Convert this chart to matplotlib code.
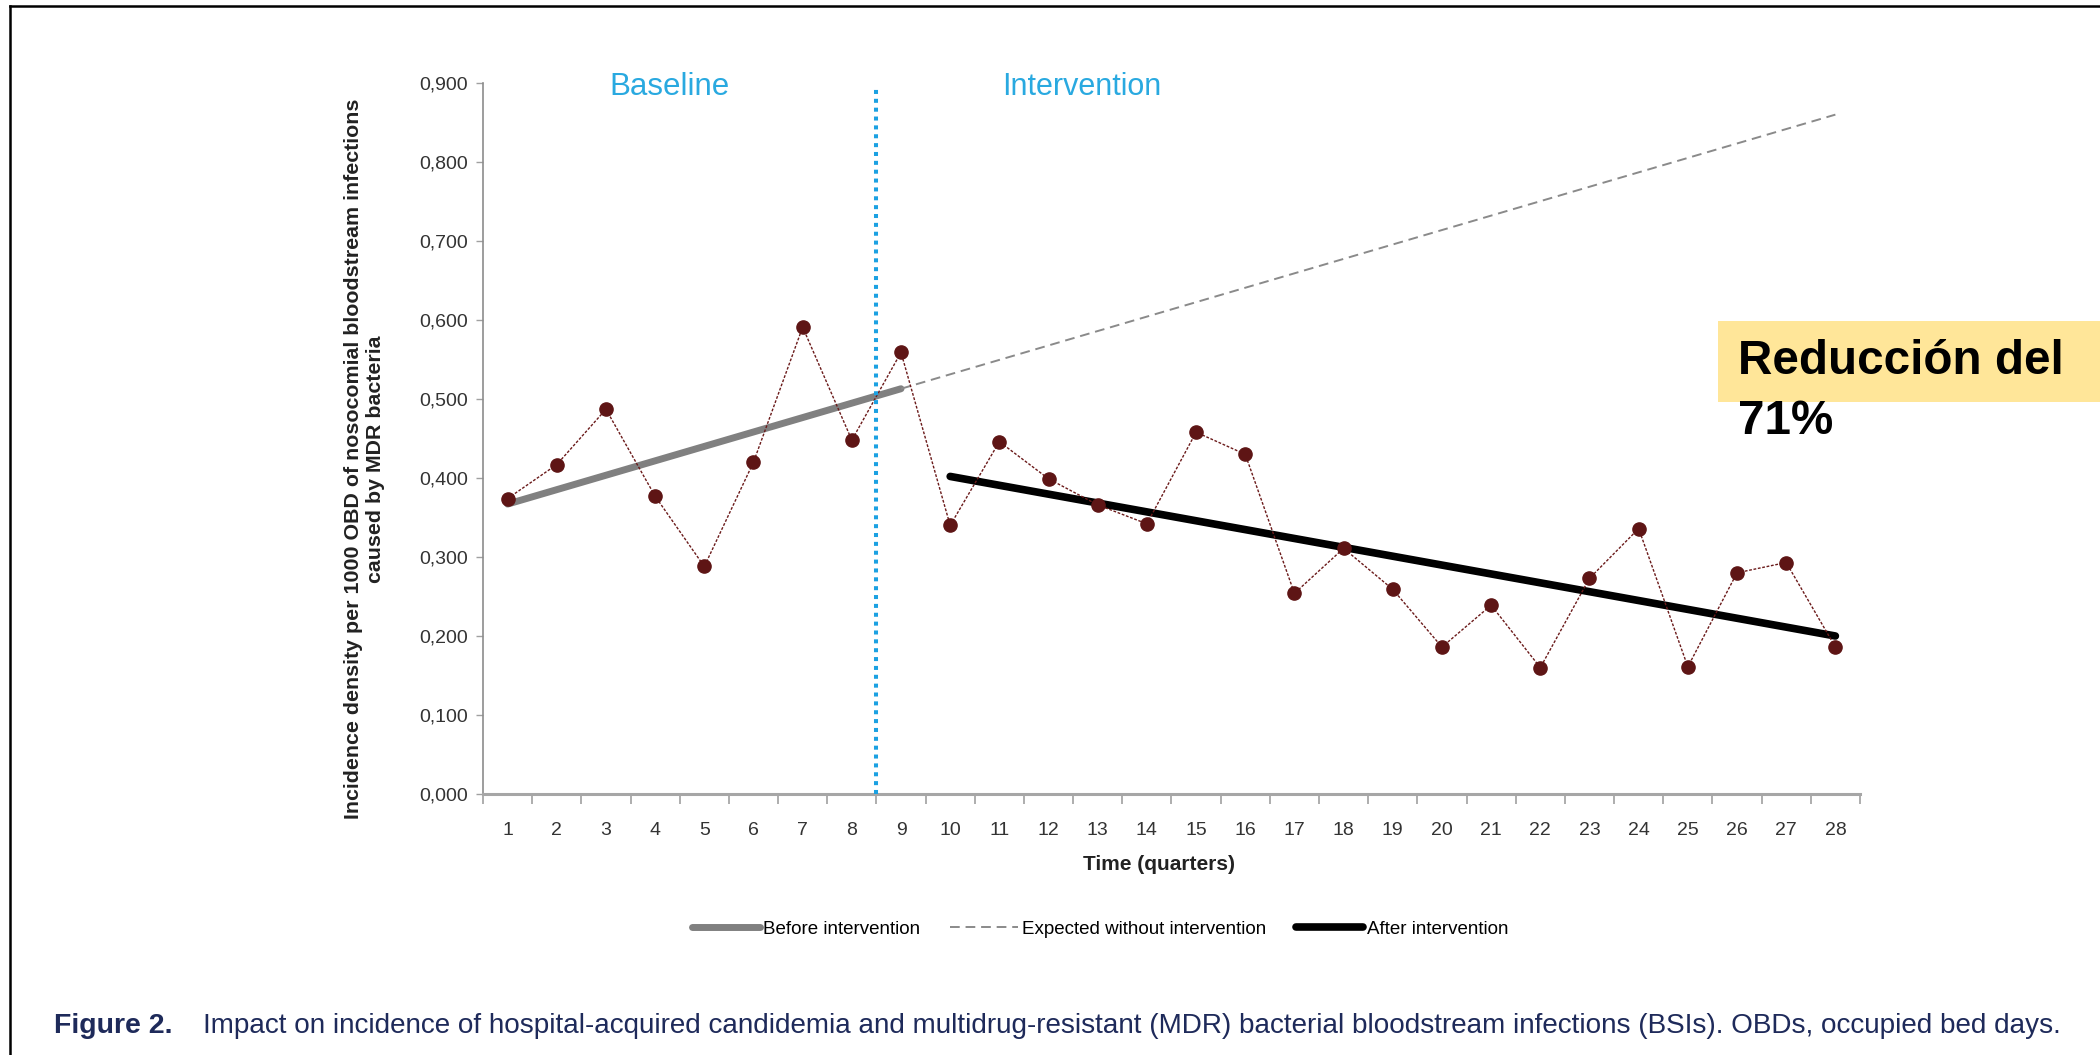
import matplotlib
matplotlib.use("Agg")
import matplotlib.pyplot as plt
from matplotlib.lines import Line2D
from matplotlib.patches import Rectangle
import numpy as np
from matplotlib import font_manager

names = {f.name for f in font_manager.fontManager.ttflist}
NARROW = "Liberation Sans Narrow" if "Liberation Sans Narrow" in names else "Liberation Sans"

# ---- data ----
quarters = np.arange(1, 29)
incidence = [0.374, 0.417, 0.487, 0.377, 0.288, 0.420, 0.591, 0.448,
             0.559, 0.340, 0.446, 0.399, 0.366, 0.342, 0.458, 0.430,
             0.254, 0.311, 0.259, 0.186, 0.239, 0.160, 0.273, 0.336,
             0.161, 0.280, 0.293, 0.186]
before_x = [1, 9]
before_y = [0.367, 0.513]
expected_x = [9, 28]
expected_y = [0.513, 0.860]
after_x = [10, 28]
after_y = [0.402, 0.200]
ytick_vals = [0.0, 0.1, 0.2, 0.3, 0.4, 0.5, 0.6, 0.7, 0.8, 0.9]
ytick_labels = ["0,000", "0,100", "0,200", "0,300", "0,400",
                "0,500", "0,600", "0,700", "0,800", "0,900"]
intervention_at = 8.5

fig = plt.figure(figsize=(21, 10.55), dpi=100)
ax = fig.add_axes([0.230, 0.2474, 0.6557, 0.6739])

# observed series
ax.plot(quarters, incidence, color="#6b1a1a", lw=1.0, ls=(0, (2, 1.2)),
        marker="o", markersize=9.5, markerfacecolor="#5e1515",
        markeredgecolor="#5e1515", zorder=4)

# trend lines
ax.plot(before_x, before_y, color="#808080", lw=5, solid_capstyle="round",
        label="Before intervention", zorder=3)
ax.plot(expected_x, expected_y, color="#8a8a8a", lw=1.4, ls=(0, (5, 3)),
        label="Expected without intervention", zorder=3)
ax.plot(after_x, after_y, color="black", lw=5.5, solid_capstyle="round",
        label="After intervention", zorder=3)

# intervention marker
ax.plot([intervention_at, intervention_at], [0, 0.893], color="#1ba1e2",
        lw=2.9, ls=(0, (1, 1.2)), zorder=5)

ax.set_xlim(0.5, 28.5)
ax.set_ylim(0, 0.9)
ax.set_xticks(quarters)
ax.set_xticklabels([str(q) for q in quarters])
ax.set_xticks(np.arange(0.5, 29, 1), minor=True)
ax.tick_params(axis="x", which="major", length=0, pad=20, labelsize=14,
               labelcolor="#333333")
ax.tick_params(axis="x", which="minor", length=7, width=1.2, color="#a0a0a0")
ax.set_yticks(ytick_vals)
ax.set_yticklabels(ytick_labels)
ax.tick_params(axis="y", length=5, width=1, color="#a0a0a0", pad=6,
               labelsize=14, labelcolor="#333333")
for lab in ax.get_xticklabels() + ax.get_yticklabels():
    lab.set_family(NARROW)

for s in ["top", "right"]:
    ax.spines[s].set_visible(False)
ax.spines["left"].set_color("#8c8c8c")
ax.spines["left"].set_linewidth(1.2)
ax.spines["bottom"].set_color("#a6a6a6")
ax.spines["bottom"].set_linewidth(2.2)

# labels
fig.text(0.1738, 0.565,
         "Incidence density per 1000 OBD of nosocomial bloodstream infections\ncaused by MDR bacteria",
         rotation=90, ha="center", va="center", ma="center",
         fontsize=15.4, fontweight="bold", family="Liberation Sans",
         color="#222222", linespacing=1.2)
fig.text(0.552, 0.181, "Time (quarters)", ha="center", va="center",
         fontsize=15, fontweight="bold", family="Liberation Sans", color="#222222")

fig.text(0.319, 0.9175, "Baseline", ha="center", va="center", fontsize=22.5,
         family="Liberation Sans", color="#29a9e0")
fig.text(0.515, 0.9175, "Intervention", ha="center", va="center", fontsize=22,
         family="Liberation Sans", color="#29a9e0")

# legend
fig.legend(*ax.get_legend_handles_labels(), loc="center",
           bbox_to_anchor=(0.524, 0.1194), ncol=3, frameon=False,
           handlelength=3.6, handletextpad=0.2, columnspacing=1.6,
           prop={"family": NARROW, "size": 13.5})

# annotation box
fig.patches.append(Rectangle((0.818, 0.619), 0.182, 0.0768,
                             transform=fig.transFigure, facecolor="#ffe699",
                             edgecolor="none", zorder=0))
fig.text(0.8276, 0.657, "Reducción del", ha="left", va="center",
         fontsize=34.3, fontweight="bold", family="Liberation Sans", color="black")
fig.text(0.8276, 0.600, "71%", ha="left", va="center",
         fontsize=34.3, fontweight="bold", family="Liberation Sans", color="black")

# caption
fig.text(0.0257, 0.0275, "Figure 2.", ha="left", va="center", fontsize=20.5,
         fontweight="bold", family=NARROW, color="#1e2a5a")
fig.text(0.0967, 0.0275,
         "Impact on incidence of hospital-acquired candidemia and multidrug-resistant (MDR) "
         "bacterial bloodstream infections (BSIs). OBDs, occupied bed days.",
         ha="left", va="center", fontsize=20.1, family=NARROW, color="#1e2a5a")

# page border (top and left)
fig.add_artist(Line2D([0.0048, 1.0], [0.9943, 0.9943], transform=fig.transFigure,
                      color="black", lw=1.8))
fig.add_artist(Line2D([0.0048, 0.0048], [0.0, 0.9943], transform=fig.transFigure,
                      color="black", lw=1.8))

fig.savefig("out.png", dpi=100)
